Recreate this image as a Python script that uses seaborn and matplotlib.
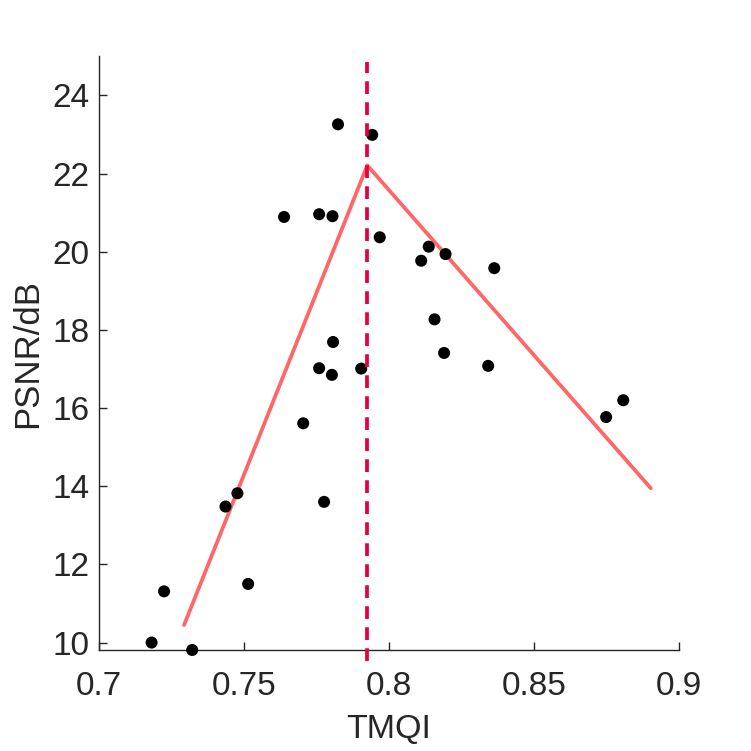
import numpy as np
import pandas as pd
import matplotlib
matplotlib.use('Agg')
import matplotlib.pyplot as plt
import seaborn as sns

# Data
tmqi = [0.7181, 0.7224, 0.7321, 0.7436, 0.7477, 0.7514, 0.7638, 0.7704,
        0.7759, 0.7805, 0.7824, 0.7759, 0.7776, 0.7807, 0.7803, 0.7904,
        0.7942, 0.7968, 0.8137, 0.8111, 0.8195, 0.8363, 0.8157, 0.8190,
        0.8342, 0.8749, 0.8808]
psnr = [10.00, 11.31, 9.81, 13.48, 13.82, 11.50, 20.89, 15.61,
        20.96, 20.91, 23.26, 17.02, 13.60, 17.69, 16.85, 17.01,
        22.99, 20.37, 20.13, 19.77, 19.94, 19.58, 18.27, 17.41,
        17.08, 15.77, 16.20]

# Piecewise fit (two segments) and breakpoint
fit_x = [0.7293, 0.7925, 0.8903]
fit_y = [10.45, 22.21, 13.95]
break_x = 0.7925

xticks = [0.7, 0.75, 0.8, 0.85, 0.9]
xtick_labels = ['0.7', '0.75', '0.8', '0.85', '0.9']
yticks = [10, 12, 14, 16, 18, 20, 22, 24]

pts = pd.DataFrame({'TMQI': tmqi, 'PSNR': psnr})
fit = pd.DataFrame({'TMQI': fit_x, 'PSNR': fit_y})

sns.set_theme(style='white')
plt.rcParams['font.family'] = ['Liberation Sans', 'DejaVu Sans']

dark = '#262626'
fig = plt.figure(figsize=(7.51, 7.51), dpi=100)
ax = fig.add_axes([0.132, 0.1345, 0.772, 0.7905])

sns.lineplot(data=fit, x='TMQI', y='PSNR', color='#FF6666', linewidth=2.7,
             sort=False, ax=ax, zorder=2)
sns.scatterplot(data=pts, x='TMQI', y='PSNR', color='black', s=75,
                edgecolor='none', ax=ax, zorder=3, clip_on=False)
ax.plot([break_x, break_x], [9.53, 24.85], color='#E6003C', linewidth=2.7,
        linestyle=(0, (3.4, 2.2)), clip_on=False, zorder=4)

ax.set_xlim(0.7, 0.9)
ax.set_ylim(9.81, 25)
ax.set_xticks(xticks)
ax.set_xticklabels(xtick_labels)
ax.set_yticks(yticks)

for side in ['top', 'right']:
    ax.spines[side].set_visible(False)
for side in ['left', 'bottom']:
    ax.spines[side].set_color(dark)
    ax.spines[side].set_linewidth(1.0)

ax.tick_params(direction='in', length=6, width=1, colors=dark,
               labelsize=24, left=True, bottom=True)
ax.tick_params(axis='x', pad=15)
ax.tick_params(axis='y', pad=7)
ax.set_xlabel('TMQI', fontsize=24.5, color=dark, labelpad=9)
ax.set_ylabel('PSNR/dB', fontsize=25, color=dark, labelpad=6)

fig.savefig('out.png', dpi=100)
